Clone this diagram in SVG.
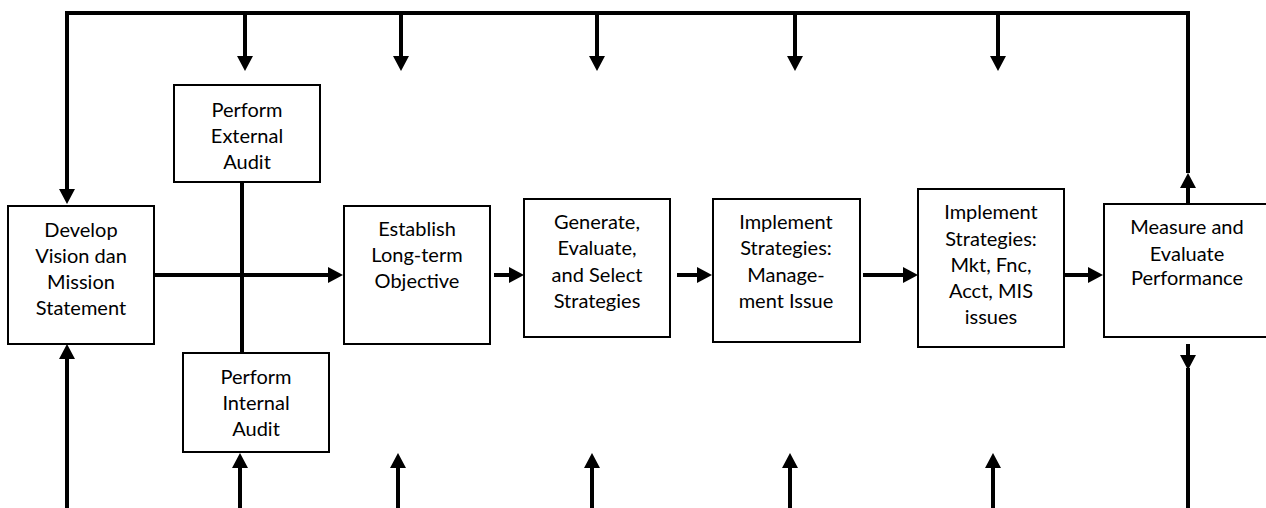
<svg xmlns="http://www.w3.org/2000/svg" width="1266" height="508" viewBox="0 0 1266 508">
  <style>
    .box { fill: #ffffff; stroke: #000000; stroke-width: 2; }
    .lbl { font-family: Lato, "Liberation Sans", sans-serif; font-size: 20px; fill: #000000; text-anchor: middle; }
    .wire { fill: none; stroke: #000000; stroke-width: 4; stroke-linejoin: miter; }
    .arr { fill: none; stroke: #000000; stroke-width: 4; marker-end: url(#head); }
  </style>
  <defs>
    <marker id="head" markerUnits="userSpaceOnUse" markerWidth="16" markerHeight="18" viewBox="0 -9 16 18" refX="0" refY="0" orient="auto" overflow="visible">
      <path d="M0,-8 L15,0 L0,8 Z" fill="#000000"/>
    </marker>
  </defs>

  <rect width="1266" height="508" fill="#ffffff"/>

  <!-- connectors -->
  <g id="connectors">
    <!-- feedback loop along the top -->
    <path class="arr" d="M1188,173 L1188,13 L67,13 L67,189"/>
    <path class="arr" d="M1188,203 L1188,188"/>
    <!-- top inputs -->
    <path class="arr" d="M245,13 L245,56"/>
    <path class="arr" d="M401,13 L401,56"/>
    <path class="arr" d="M597,13 L597,56"/>
    <path class="arr" d="M795,13 L795,56"/>
    <path class="arr" d="M998,13 L998,56"/>
    <!-- bottom inputs -->
    <path class="arr" d="M67,508 L67,359"/>
    <path class="arr" d="M240,508 L240,468"/>
    <path class="arr" d="M398,508 L398,468"/>
    <path class="arr" d="M592,508 L592,468"/>
    <path class="arr" d="M790,508 L790,468"/>
    <path class="arr" d="M993,508 L993,468"/>
    <!-- bottom output of performance -->
    <path class="arr" d="M1188,344 L1188,355"/>
    <path class="wire" d="M1188,368 L1188,508"/>
    <!-- audits crossing -->
    <path class="wire" d="M242,182 L242,353"/>
    <!-- main flow -->
    <path class="arr" d="M154,275 L328,275"/>
    <path class="arr" d="M494,275 L509,275"/>
    <path class="arr" d="M677,275 L697,275"/>
    <path class="arr" d="M863,275 L903,275"/>
    <path class="arr" d="M1064,275 L1088,275"/>
  </g>

  <g id="vision">
    <rect class="box" x="8" y="206" width="146" height="138"/>
    <text class="lbl" x="81" y="237">Develop</text>
    <text class="lbl" x="81" y="263">Vision dan</text>
    <text class="lbl" x="81" y="289">Mission</text>
    <text class="lbl" x="81" y="315">Statement</text>
  </g>

  <g id="external-audit">
    <rect class="box" x="174" y="85" width="146" height="97"/>
    <text class="lbl" x="247" y="117">Perform</text>
    <text class="lbl" x="247" y="143">External</text>
    <text class="lbl" x="247" y="169">Audit</text>
  </g>

  <g id="internal-audit">
    <rect class="box" x="183" y="353" width="146" height="99"/>
    <text class="lbl" x="256" y="384">Perform</text>
    <text class="lbl" x="256" y="410">Internal</text>
    <text class="lbl" x="256" y="436">Audit</text>
  </g>

  <g id="objectives">
    <rect class="box" x="344" y="206" width="146" height="138"/>
    <text class="lbl" x="417" y="236">Establish</text>
    <text class="lbl" x="417" y="262">Long-term</text>
    <text class="lbl" x="417" y="288">Objective</text>
  </g>

  <g id="strategies">
    <rect class="box" x="524" y="199" width="146" height="138"/>
    <text class="lbl" x="597" y="229">Generate,</text>
    <text class="lbl" x="597" y="255">Evaluate,</text>
    <text class="lbl" x="597" y="282">and Select</text>
    <text class="lbl" x="597" y="308">Strategies</text>
  </g>

  <g id="management">
    <rect class="box" x="713" y="199" width="147" height="143"/>
    <text class="lbl" x="786" y="229">Implement</text>
    <text class="lbl" x="786" y="255">Strategies:</text>
    <text class="lbl" x="786" y="282">Manage-</text>
    <text class="lbl" x="786" y="308">ment Issue</text>
  </g>

  <g id="functional">
    <rect class="box" x="918" y="189" width="146" height="158"/>
    <text class="lbl" x="991" y="219">Implement</text>
    <text class="lbl" x="991" y="246">Strategies:</text>
    <text class="lbl" x="991" y="272">Mkt, Fnc,</text>
    <text class="lbl" x="991" y="298">Acct, MIS</text>
    <text class="lbl" x="991" y="324">issues</text>
  </g>

  <g id="performance">
    <!-- box runs past the right edge of the canvas -->
    <rect class="box" x="1104" y="204" width="172" height="133"/>
    <text class="lbl" x="1187" y="234">Measure and</text>
    <text class="lbl" x="1187" y="261">Evaluate</text>
    <text class="lbl" x="1187" y="285">Performance</text>
  </g>
</svg>
